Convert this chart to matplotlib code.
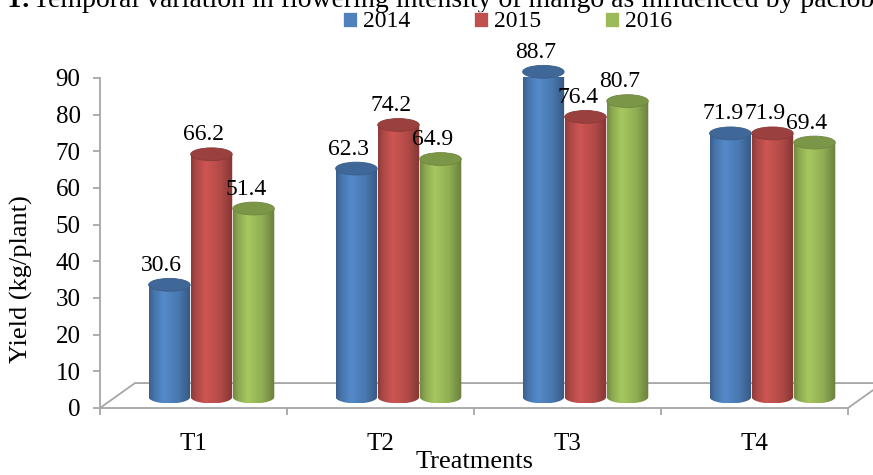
import numpy as np
import matplotlib
matplotlib.use("Agg")
import matplotlib.pyplot as plt
from matplotlib.patches import Ellipse, PathPatch, Patch, Polygon
from matplotlib.path import Path
from matplotlib.colors import to_rgb

plt.rcParams['font.family'] = ['Liberation Serif', 'DejaVu Serif']

treatments = ["T1", "T2", "T3", "T4"]
years = ["2014", "2015", "2016"]
y2014 = [30.6, 62.3, 88.7, 71.9]
y2015 = [66.2, 74.2, 76.4, 71.9]
y2016 = [51.4, 64.9, 80.7, 69.4]
colors = ["#4F81BD", "#C0504D", "#9BBB59"]

fig = plt.figure(figsize=(8.73, 4.75), dpi=100)
ax = fig.add_axes([100 / 873, 67 / 475, 748 / 873, 330 / 475])
ax.set_xlim(-0.5, 3.5)
ax.set_ylim(0, 90)

# depth of the pseudo-3D floor (data units)
dx, dy = 0.187, 6.8
floor = Polygon([(-0.5, 0), (-0.5 + dx, dy), (3.5 + dx, dy), (3.5, 0)],
                closed=True, facecolor="white", edgecolor="#a6a6a6",
                lw=1.3, clip_on=False, zorder=1)
ax.add_patch(floor)

bw = 0.222
step = 0.225
shift = 0.096
base = 3.0
eh = 3.5


def shade(c, f):
    c = np.array(to_rgb(c))
    return np.clip(c * f, 0, 1)


def cylinder(xc, top, color, z):
    x0, x1 = xc - bw / 2, xc + bw / 2
    th = np.linspace(np.pi, 2 * np.pi, 40)
    ex = xc + bw / 2 * np.cos(th)
    ey = base + eh / 2 * np.sin(th)
    verts = [(x0, top), (x1, top), (x1, base)] + list(zip(ex[::-1], ey[::-1])) + [(x0, top)]
    codes = [Path.MOVETO] + [Path.LINETO] * (len(verts) - 2) + [Path.CLOSEPOLY]
    body = PathPatch(Path(verts, codes), transform=ax.transData)

    t = np.linspace(0, 1, 80)
    f = np.interp(t, [0, 0.12, 0.35, 0.7, 1.0], [0.74, 0.9, 1.07, 0.93, 0.68])
    grad = np.array([shade(color, v) for v in f])[np.newaxis, :, :]
    im = ax.imshow(grad, extent=(x0, x1, base - eh / 2, top), aspect="auto",
                   interpolation="bilinear", zorder=z)
    im.set_clip_box(None)
    im.set_clip_path(body)

    ax.add_patch(Ellipse((xc, top), bw, eh, facecolor=shade(color, 0.8),
                         edgecolor=shade(color, 0.72), lw=0.6, zorder=z + 0.1,
                         clip_on=False))


series = [y2014, y2015, y2016]
for i in range(len(treatments)):
    for j, vals in enumerate(series):
        xc = i + (j - 1) * step + shift
        top = vals[i] + base
        cylinder(xc, top, colors[j], 2 + i * 3 + j)
        ax.annotate(f"{vals[i]:.1f}", (xc, top), xytext=(-5.5, 10),
                    textcoords="offset points", ha="center", va="baseline",
                    fontsize=17, zorder=40, annotation_clip=False)

ax.set_xlim(-0.5, 3.5)
ax.set_ylim(0, 90)

for s in ["top", "right", "bottom"]:
    ax.spines[s].set_visible(False)
ax.spines["left"].set_color("#a6a6a6")
ax.spines["left"].set_linewidth(1.3)

ax.set_yticks(range(0, 91, 10))
ax.tick_params(axis="y", colors="#a6a6a6", labelcolor="black", length=5,
               width=1.3, labelsize=18, pad=9)
ax.set_xticks(range(4))
ax.set_xticklabels(treatments)
ax.set_xticks([-0.5, 0.5, 1.5, 2.5, 3.5], minor=True)
ax.tick_params(axis="x", which="major", length=0, labelsize=18, pad=18)
ax.tick_params(axis="x", which="minor", length=5, width=1.3, colors="#a6a6a6")

ax.set_ylabel("Yield (kg/plant)", fontsize=19)
ax.yaxis.label.set_va("center")
ax.yaxis.set_label_coords(-0.105, 0.39)
ax.set_xlabel("Treatments", fontsize=19)
ax.xaxis.label.set_va("center")
ax.xaxis.set_label_coords(0.501, -0.164)

handles = [Patch(facecolor=c, edgecolor="white", lw=0.5) for c in colors]
fig.legend(handles, years, loc="center", bbox_to_anchor=(0.581, 0.954),
           ncol=3, frameon=False, fontsize=17, handlelength=0.6,
           handleheight=0.6, handletextpad=0.25, columnspacing=2.7)

fig.text(30 / 873, 1 - 7 / 475, "Figure 1:", ha="right", va="baseline",
         fontsize=20, fontweight="bold")
fig.text(33 / 873, 1 - 7 / 475,
         "Temporal variation in flowering intensity of mango as influenced by paclobutrazol",
         ha="left", va="baseline", fontsize=20)

fig.savefig("out.png", dpi=100)
